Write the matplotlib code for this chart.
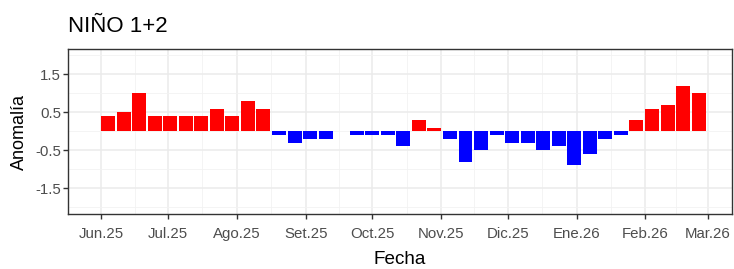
import numpy as np
import pandas as pd
import matplotlib
matplotlib.use("Agg")
import matplotlib.pyplot as plt
import matplotlib.dates as mdates

plt.rcParams['font.family'] = ['Liberation Sans', 'DejaVu Sans']

# weekly anomalies (weeks centred on Wednesday)
fechas = pd.date_range("2025-06-04", periods=39, freq="7D")
anomalia = [0.4, 0.5, 1.0, 0.4, 0.4, 0.4, 0.4, 0.6, 0.4, 0.8, 0.6,
            -0.1, -0.3, -0.2, -0.2, 0.0, -0.1, -0.1, -0.1, -0.4, 0.3, 0.1,
            -0.2, -0.8, -0.5, -0.1, -0.3, -0.3, -0.5, -0.4, -0.9, -0.6,
            -0.2, -0.1, 0.3, 0.6, 0.7, 1.2, 1.0]

meses = pd.date_range("2025-06-01", "2026-03-01", freq="MS")
etiquetas = ["Jun.25", "Jul.25", "Ago.25", "Set.25", "Oct.25", "Nov.25",
             "Dic.25", "Ene.26", "Feb.26", "Mar.26"]
yticks = [1.5, 0.5, -0.5, -1.5]

W, H = 734, 269
fig = plt.figure(figsize=(W / 100, H / 100), dpi=100)
ax = fig.add_axes([68 / W, 1 - 214 / H, (732 - 68) / W, (214 - 49) / H])

colores = ["#FF0000" if v > 0 else "#0000FF" for v in anomalia]
ax.bar(fechas, anomalia, width=6.3, color=colores, linewidth=0, zorder=3)

x0 = pd.Timestamp("2025-05-18 05:00")
ax.set_xlim(x0, x0 + pd.Timedelta(days=297.8))
ax.set_ylim(-2.18, 2.17)

ax.set_xticks(meses)
ax.set_xticklabels(etiquetas)
mid = [meses[i] + (meses[i + 1] - meses[i]) / 2 for i in range(len(meses) - 1)]
mid = [meses[0] - (meses[1] - meses[0]) / 2] + mid
ax.set_xticks(mid, minor=True)
ax.set_yticks(yticks)
ax.set_yticklabels(["1.5", "0.5", "-0.5", "-1.5"])
ax.set_yticks([2.0, 1.0, 0.0, -1.0, -2.0], minor=True)

ax.grid(True, which="major", color="#EBEBEB", linewidth=1.1, zorder=0)
ax.grid(True, which="minor", color="#F2F2F2", linewidth=0.6, zorder=0)
ax.set_axisbelow(True)

for s in ax.spines.values():
    s.set_color("#333333")
    s.set_linewidth(1.0)

ax.tick_params(which="major", length=3.6, width=1, color="#333333",
               labelsize=10.8, labelcolor="#4D4D4D")
ax.tick_params(axis="x", which="major", pad=6)
ax.tick_params(axis="y", which="major", pad=1.5)
ax.tick_params(which="minor", length=0)

ax.set_xlabel("Fecha", fontsize=13.6, color="black", labelpad=7)
ax.set_ylabel("Anomalía", fontsize=13, color="black", labelpad=5)
fig.text(68 / W, 1 - 32 / H, "NIÑO 1+2", fontsize=16, color="black",
         ha="left", va="baseline")

fig.savefig("out.png", dpi=100)
